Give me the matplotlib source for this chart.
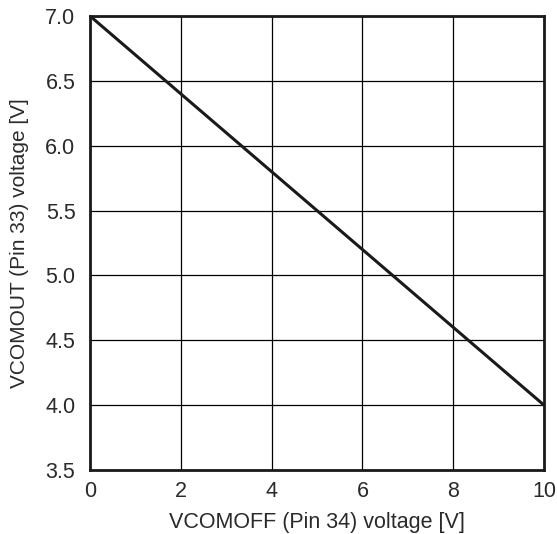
import matplotlib
matplotlib.use('Agg')
import matplotlib.pyplot as plt
import numpy as np

plt.rcParams['font.family'] = ['Liberation Sans', 'DejaVu Sans']

# data
vcomoff = [0, 10]
vcomout = [7.0, 4.0]
x_ticks = [0, 2, 4, 6, 8, 10]
y_ticks = [3.5, 4.0, 4.5, 5.0, 5.5, 6.0, 6.5, 7.0]

fig = plt.figure(figsize=(5.57, 5.34), dpi=100)
ax = fig.add_axes([0.1616, 0.1199, 0.8151, 0.8501])

ax.plot(vcomoff, vcomout, color='#1a1a1a', linewidth=2.2, solid_capstyle='butt')

ax.set_xlim(0, 10)
ax.set_ylim(3.5, 7.0)
ax.set_xticks(x_ticks)
ax.set_yticks(y_ticks)
ax.set_yticklabels([f'{v:.1f}' for v in y_ticks])
ax.grid(True, color='black', linewidth=0.9)
ax.tick_params(length=0, labelsize=15.5, colors='#2a2a2a')
ax.tick_params(axis='y', pad=10.5)
ax.tick_params(axis='x', pad=8)
for s in ax.spines.values():
    s.set_linewidth(2)
    s.set_color('#1a1a1a')

ax.set_xlabel('VCOMOFF (Pin 34) voltage [V]', fontsize=15.5, color='#2a2a2a', labelpad=7)
ax.set_ylabel('VCOMOUT (Pin 33) voltage [V]', fontsize=15, color='#2a2a2a', labelpad=12)

fig.savefig('out.png', dpi=100)
